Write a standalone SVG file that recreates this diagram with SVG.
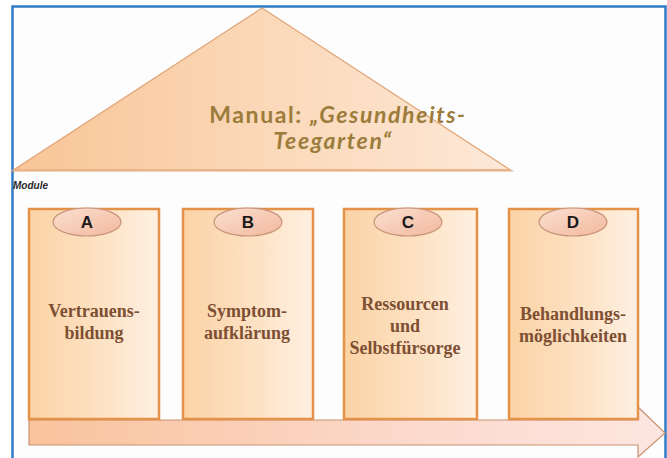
<svg xmlns="http://www.w3.org/2000/svg" width="667" height="458" viewBox="0 0 667 458">
<defs>
<linearGradient id="roofG" x1="0" y1="0" x2="1" y2="0">
<stop offset="0" stop-color="#f8c596"/>
<stop offset="0.5" stop-color="#fbd8b8"/>
<stop offset="1" stop-color="#fde8d8"/>
</linearGradient>
<linearGradient id="colG" x1="0" y1="0" x2="1" y2="0">
<stop offset="0" stop-color="#fbd3a6"/>
<stop offset="0.6" stop-color="#fde3c6"/>
<stop offset="1" stop-color="#fef0e2"/>
</linearGradient>
<linearGradient id="ovalG" x1="0" y1="0" x2="1" y2="1">
<stop offset="0" stop-color="#fbe0d2"/>
<stop offset="1" stop-color="#f2b89c"/>
</linearGradient>
<linearGradient id="arrowG" x1="0" y1="0" x2="1" y2="0">
<stop offset="0" stop-color="#f9c39c"/>
<stop offset="0.6" stop-color="#fcd9cc"/>
<stop offset="1" stop-color="#fde6e0"/>
</linearGradient>
<style>
.col{fill:url(#colG);stroke:#e4924a;stroke-width:2.5}
.oval{fill:url(#ovalG);stroke:#c9957a;stroke-width:1.2}
.letter{font-family:"Liberation Sans",Arial,sans-serif;font-weight:bold;font-size:17px;fill:#1a1a1a;text-anchor:middle}
.lbl{font-family:"Liberation Serif","Times New Roman",serif;font-weight:bold;font-size:18px;fill:#7d4f33;text-anchor:middle}
.title{font-family:Lato,"Open Sans",sans-serif;font-weight:bold;font-size:23px;letter-spacing:1.6px;fill:#9c7c3a;text-anchor:middle}
</style>
</defs>
<rect x="0" y="0" width="667" height="458" fill="#ffffff"/>
<path d="M12.5 470 V6.5 H665.5 V470" fill="#fdfdfd" stroke="#2f7cc6" stroke-width="2.5"/>
<g id="roof">
<polygon points="262,8 12,171 512,171" fill="url(#roofG)" stroke="#e0a678" stroke-width="1.2"/>
<line x1="14" y1="170" x2="511" y2="170" stroke="#eab48a" stroke-width="2"/>
<text class="title" x="338" y="123">Manual: <tspan font-style="italic">„Gesundheits-</tspan></text>
<text class="title" x="333" y="149" font-style="italic">Teegarten“</text>
</g>
<text x="13" y="189" font-family="'Liberation Sans',Arial,sans-serif" font-size="10" font-weight="bold" font-style="italic" fill="#2a2a2a">Module</text>
<g id="arrow">
<polygon points="29,420 638,420 638,407 665,433 638,457 638,445 29,445" fill="url(#arrowG)" stroke="#c99272" stroke-width="1.2"/>
</g>
<g id="moduleA">
<rect class="col" x="29" y="209" width="130" height="210"/>
<ellipse class="oval" cx="87" cy="222" rx="34" ry="14"/>
<text class="letter" x="87" y="228">A</text>
<text class="lbl" x="94" y="317">Vertrauens-</text>
<text class="lbl" x="94" y="339">bildung</text>
</g>
<g id="moduleB">
<rect class="col" x="183" y="209" width="130" height="210"/>
<ellipse class="oval" cx="248" cy="222" rx="34" ry="14"/>
<text class="letter" x="248" y="228">B</text>
<text class="lbl" x="247" y="317">Symptom-</text>
<text class="lbl" x="247" y="339">aufklärung</text>
</g>
<g id="moduleC">
<rect class="col" x="344" y="209" width="133" height="210"/>
<ellipse class="oval" cx="408" cy="222" rx="34" ry="14"/>
<text class="letter" x="408" y="228">C</text>
<text class="lbl" x="405" y="310">Ressourcen</text>
<text class="lbl" x="405" y="332">und</text>
<text class="lbl" x="405" y="354">Selbstfürsorge</text>
</g>
<g id="moduleD">
<rect class="col" x="509" y="209" width="129" height="210"/>
<ellipse class="oval" cx="573" cy="222" rx="34" ry="14"/>
<text class="letter" x="573" y="228">D</text>
<text class="lbl" x="573" y="320">Behandlungs-</text>
<text class="lbl" x="573" y="342">möglichkeiten</text>
</g>
</svg>
